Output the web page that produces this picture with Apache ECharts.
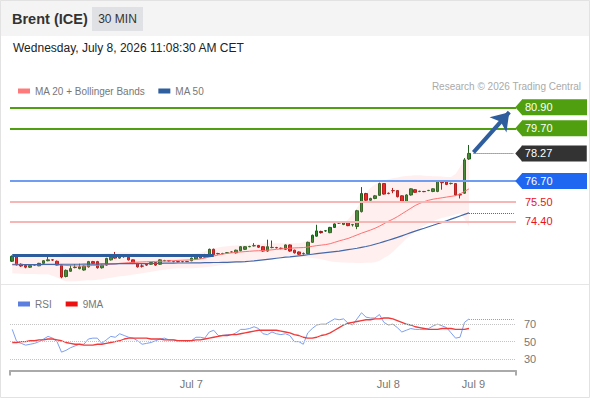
<!DOCTYPE html>
<html>
<head>
<meta charset="utf-8">
<script src="https://cdn.jsdelivr.net/npm/echarts@6/dist/echarts.min.js"></script>
<style>
html, body { margin: 0; padding: 0; background: #fff; }
#main { width: 590px; height: 400px; }
</style>
</head>
<body>
<div id="main"></div>
<script>
// 30 min candles, Brent (ICE)
const opens = [72.12,72.40,71.95,71.88,71.78,71.90,71.86,72.00,72.15,72.20,
  72.12,71.90,71.25,71.55,71.76,71.70,71.62,71.80,72.10,72.10,
  71.75,71.90,72.20,72.40,72.30,72.42,72.35,72.20,72.00,71.85,
  71.95,71.95,72.05,71.95,72.15,72.15,72.10,72.10,72.10,72.10,
  72.15,72.25,72.30,72.35,72.50,72.80,72.55,72.55,72.60,72.65,
  72.60,72.72,72.80,72.95,73.00,73.02,72.95,72.70,72.90,72.90,
  72.86,72.80,73.05,72.75,72.65,72.55,72.55,73.20,73.55,73.82,
  73.85,73.75,74.05,74.30,74.22,74.35,74.20,74.10,74.95,75.98,
  75.60,75.70,75.88,76.55,76.00,76.15,76.15,75.85,75.50,75.90,
  76.20,76.10,76.10,76.15,76.10,76.10,76.62,76.65,76.55,76.55,
  75.92,76.00,77.95];
const closes = [72.40,71.92,71.85,71.78,71.88,71.92,72.00,72.15,72.20,72.19,
  71.90,71.22,71.60,71.70,71.78,71.80,71.85,72.10,72.00,71.75,
  71.90,72.28,72.35,72.30,72.45,72.38,72.20,72.00,71.80,71.84,
  71.90,72.05,71.90,72.20,72.16,72.14,72.11,72.09,72.10,72.11,
  72.30,72.40,72.45,72.50,72.80,72.50,72.56,72.56,72.61,72.65,
  72.75,72.95,72.95,72.96,73.01,72.92,72.70,72.95,72.91,72.89,
  72.85,73.05,72.70,72.60,72.52,72.56,73.20,73.60,73.85,73.75,
  73.86,74.05,74.25,74.31,74.35,74.15,74.21,75.00,75.98,75.60,
  75.70,75.85,76.55,75.95,75.98,76.14,75.80,75.50,75.90,76.25,
  76.05,76.11,76.09,76.16,76.25,76.70,76.60,76.50,76.56,75.90,
  75.90,77.90,78.27];
const lows = [72.08,71.88,71.80,71.72,71.74,71.86,71.84,71.98,72.12,72.14,
  71.88,71.15,71.20,71.52,71.72,71.66,71.58,71.76,71.96,71.70,
  71.70,71.86,72.16,72.26,72.26,72.32,72.16,71.96,71.76,71.76,
  71.86,71.92,71.86,71.92,72.12,72.10,72.06,72.06,72.06,72.07,
  72.12,72.22,72.26,72.32,72.46,72.46,72.50,72.52,72.56,72.62,
  72.56,72.68,72.76,72.92,72.96,72.88,72.66,72.66,72.86,72.85,
  72.80,72.76,72.66,72.56,72.48,72.50,72.52,73.16,73.52,73.70,
  73.80,73.72,74.02,74.26,74.18,74.12,74.10,73.95,74.90,75.56,
  75.56,75.66,75.84,75.92,75.94,76.00,75.76,75.46,75.46,75.86,
  76.02,76.06,76.06,76.12,76.06,76.06,76.20,76.46,76.50,75.86,
  75.70,75.96,77.90];
const highs = [72.45,72.45,72.00,71.92,71.92,71.96,72.03,72.18,72.50,72.24,
  72.16,71.92,71.65,71.90,71.95,71.98,71.88,72.14,72.14,72.14,
  71.94,72.32,72.40,72.65,72.50,72.46,72.38,72.22,72.03,71.95,
  71.98,72.08,72.08,72.24,72.20,72.18,72.14,72.13,72.14,72.14,
  72.33,72.44,72.48,72.54,72.84,72.84,72.60,72.60,72.64,72.68,
  72.78,72.98,72.98,73.00,73.15,73.05,72.98,73.35,73.30,72.94,
  72.90,73.08,73.08,72.78,72.68,72.62,73.24,73.64,74.20,73.86,
  73.90,74.08,74.28,74.34,74.38,74.38,74.25,75.05,76.35,76.02,
  75.74,75.90,76.60,76.58,76.04,76.30,76.18,75.88,75.94,76.28,
  76.24,76.14,76.13,76.19,76.28,76.74,76.68,76.70,76.60,76.58,
  75.98,78.00,78.75];

const ma20 = [71.95,71.95,71.94,71.93,71.92,71.92,71.92,71.93,71.93,71.93,
  71.92,71.90,71.88,71.87,71.86,71.85,71.85,71.86,71.88,71.89,
  71.90,71.92,71.95,71.97,72.00,72.02,72.04,72.06,72.07,72.08,
  72.09,72.10,72.11,72.12,72.13,72.14,72.15,72.17,72.18,72.19,
  72.20,72.22,72.25,72.30,72.36,72.42,72.48,72.53,72.57,72.60,
  72.63,72.65,72.67,72.69,72.71,72.72,72.73,72.75,72.77,72.80,
  72.82,72.84,72.86,72.88,72.89,72.90,72.93,72.97,73.01,73.04,
  73.07,73.12,73.20,73.28,73.35,73.42,73.52,73.62,73.72,73.81,
  73.90,74.00,74.12,74.26,74.40,74.52,74.66,74.82,74.98,75.14,
  75.30,75.42,75.52,75.60,75.66,75.70,75.74,75.78,75.82,75.86,
  75.96,76.10,76.25];
const bandUpper = [72.50,72.50,72.49,72.48,72.47,72.47,72.46,72.46,72.46,72.46,
  72.50,72.56,72.60,72.62,72.62,72.60,72.58,72.56,72.54,72.54,
  72.56,72.58,72.60,72.62,72.63,72.63,72.62,72.60,72.58,72.56,
  72.54,72.53,72.52,72.52,72.52,72.52,72.52,72.52,72.52,72.53,
  72.55,72.57,72.60,72.68,72.78,72.86,72.90,72.94,72.98,73.00,
  73.02,73.03,73.05,73.07,73.09,73.11,73.13,73.14,73.15,73.15,
  73.15,73.15,73.15,73.15,73.15,73.20,73.30,73.42,73.52,73.62,
  73.74,73.88,74.02,74.16,74.30,74.50,74.80,75.15,75.60,76.00,
  76.30,76.50,76.62,76.72,76.80,76.85,76.90,76.95,76.98,77.00,
  77.02,77.02,77.00,76.98,76.97,76.96,76.95,76.93,76.92,77.10,
  77.50,77.95,78.45];
const bandLower = [71.44,71.42,71.41,71.40,71.40,71.39,71.38,71.38,71.38,71.30,
  71.20,71.08,70.98,70.98,70.98,71.00,71.02,71.03,71.04,71.06,
  71.10,71.14,71.18,71.22,71.26,71.28,71.32,71.36,71.40,71.44,
  71.48,71.52,71.56,71.60,71.64,71.68,71.71,71.72,71.72,71.72,
  71.72,71.73,71.75,71.78,71.81,71.84,71.88,71.92,71.96,72.00,
  72.04,72.06,72.08,72.11,72.14,72.17,72.20,72.24,72.28,72.32,
  72.36,72.40,72.42,72.42,72.40,72.36,72.33,72.30,72.28,72.24,
  72.18,72.12,72.08,72.06,72.05,72.04,72.03,72.02,72.02,72.03,
  72.04,72.06,72.15,72.30,72.45,72.65,72.90,73.15,73.40,73.62,
  73.82,74.00,74.15,74.30,74.42,74.52,74.60,74.66,74.72,74.80,
  74.85,74.55,74.10];
const ma50 = [71.92,71.92,71.92,71.93,71.93,71.93,71.93,71.94,71.94,71.94,
  71.94,71.95,71.95,71.95,71.95,71.95,71.96,71.96,71.96,71.96,
  71.97,71.97,71.97,71.97,71.98,71.98,71.98,71.98,71.99,71.99,
  71.99,72.00,72.00,72.00,72.01,72.01,72.01,72.02,72.02,72.02,
  72.03,72.03,72.03,72.04,72.04,72.05,72.05,72.06,72.06,72.07,
  72.08,72.09,72.10,72.12,72.14,72.17,72.20,72.23,72.26,72.29,
  72.32,72.35,72.37,72.40,72.43,72.46,72.49,72.52,72.55,72.58,
  72.61,72.64,72.67,72.70,72.74,72.78,72.82,72.86,72.91,72.96,
  73.02,73.09,73.16,73.24,73.32,73.40,73.48,73.57,73.66,73.75,
  73.84,73.92,74.00,74.09,74.17,74.26,74.34,74.43,74.52,74.61,
  74.70,74.79,74.88];

const rsi = [64,50,48,46,47,48,50,53,56,54, 50,38,40,43,45,47,47,53,54,54,
  48,52,56,55,59,57,55,54,51,47, 48,49,51,53,54,52,52,51,51,50,
  51,55,55,54,61,63,57,57,58,58, 60,64,64,65,67,65,59,58,61,59,
  58,59,57,50,50,47,60,65,69,70, 70,73,76,75,76,71,69,76,83,78,
  77,77,81,72,69,70,66,61,63,65, 64,64,64,65,68,70,68,66,60,54,
  55,72,76];
const rsiMa = [49,49,50,50,51,51,52,52,53,53, 52,51,49,48,47,47,46,46,46,47,
  47,48,49,50,51,53,54,54,54,54, 54,53,53,53,52,52,52,51,51,51,
  51,52,52,53,54,55,56,57,57,58, 58,59,60,61,62,63,63,63,63,63,
  62,61,60,58,57,55,54,54,55,57, 58,60,63,66,69,71,72,73,74,75,
  75,76,76,77,77,76,74,72,70,69, 67,66,65,64,64,64,65,65,65,64,
  64,64,65];
const rsiLevels = [70, 50, 30];

// key levels drawn on the right
const levelValues = [80.90, 79.70, 78.27, 76.70, 75.50, 74.40];
const levelKinds = ['target', 'target', 'last', 'pivot', 'support', 'support'];
const supportLine = 72.45;           // old horizontal line on the left
const supportEnd = 45;
const arrowFrom = 78.33;
const arrowTo = 80.62;

const dayTicks = [[40, 'Jul 7'], [84, 'Jul 8'], [103, 'Jul 9']];
const slotCount = 113;
const categories = [];
for (let i = 0; i < slotCount; i++) categories.push(String(i));
const dayName = {};
dayTicks.forEach(d => { dayName[d[0]] = d[1]; });

const lastIdx = closes.length - 1;
const lastSlot = slotCount - 1;

const levelStyle = {
  target: { line: '#4f9f10', tag: '#4f9f10', text: '#fff' },
  last: { line: '#555', tag: '#333', text: '#fff' },
  pivot: { line: '#6e9df2', tag: '#1f66f0', text: '#fff' },
  support: { line: '#f6b6b6', tag: null, text: '#e8141c' }
};

const candles = opens.map((o, i) => [o, closes[i], lows[i], highs[i]]);
const bandSpread = bandUpper.map((u, i) => +(u - bandLower[i]).toFixed(2));

var levelLines = [];
var levelTags = [];
levelValues.forEach((v, k) => {
  const kind = levelKinds[k];
  const s = levelStyle[kind];
  const label = { show: true, position: 'end', formatter: v.toFixed(2), color: s.text,
    fontSize: 11, distance: 6, align: 'left' };
  if (s.tag) {
    label.backgroundColor = s.tag;
    label.padding = [2, 4, 2, 3];
    label.width = 58;
    label.lineHeight = 12;
  } else {
    label.distance = 9;
  }
  if (kind === 'last') {
    label.distance = 8;
    levelLines.push([
      { coord: [lastIdx + 1, v], lineStyle: { color: s.line, type: 'dotted', width: 1 }, label: label },
      { coord: [lastSlot, v] }
    ]);
  } else {
    levelLines.push({ yAxis: v, lineStyle: { color: s.line, width: 2, type: 'solid' }, label: label });
  }
  if (s.tag) {
    levelTags.push({ coord: [lastSlot, v], itemStyle: { color: s.tag } });
  }
});

var font = "'Liberation Sans', Arial, sans-serif";
var myChart = echarts.init(document.getElementById('main'), null, { renderer: 'svg' });

var option = {
  animation: false,
  textStyle: { fontFamily: font },
  graphic: [
    { type: 'rect', shape: { x: 0, y: 0, width: 590, height: 36 }, style: { fill: '#f4f4f4' }, z: -1 },
    { type: 'rect', shape: { x: 92, y: 7, width: 51, height: 24 }, style: { fill: '#dfe1e5' } },
    { type: 'text', x: 12, y: 19, style: { text: 'Brent (ICE)', font: 'bold 14.5px ' + font, fill: '#333', verticalAlign: 'middle' } },
    { type: 'text', x: 117.5, y: 19, style: { text: '30 MIN', font: '12px ' + font, fill: '#333', align: 'center', verticalAlign: 'middle' } },
    { type: 'text', x: 13, y: 48, style: { text: 'Wednesday, July 8, 2026 11:08:30 AM CET', font: '12px ' + font, fill: '#222', verticalAlign: 'middle' } },
    { type: 'text', x: 581, y: 86, style: { text: 'Research \u00a9 2026 Trading Central', font: '10px ' + font, fill: '#aaa', align: 'right', verticalAlign: 'middle' } },
    { type: 'line', shape: { x1: 0, y1: 284.5, x2: 590, y2: 284.5 }, style: { stroke: '#e6e6e6', lineWidth: 1 } },
    { type: 'rect', shape: { x: 0.5, y: 0.5, width: 589, height: 397 }, style: { fill: 'none', stroke: '#e2e2e2', lineWidth: 1 }, z: 10 }
  ],
  legend: [
    { data: ['MA 20 + Bollinger Bands', 'MA 50'], left: 13, top: 81, icon: 'rect', itemWidth: 12, itemHeight: 5,
      itemGap: 13, textStyle: { fontSize: 10, color: '#777' }, selectedMode: false },
    { data: ['RSI', '9MA'], left: 13, top: 294, icon: 'rect', itemWidth: 12, itemHeight: 5,
      itemGap: 14, textStyle: { fontSize: 10, color: '#777' }, selectedMode: false }
  ],
  grid: [
    { left: 10, right: 74, top: 95, height: 188 },
    { left: 10, right: 74, top: 311, height: 59.5 }
  ],
  xAxis: [
    { type: 'category', gridIndex: 0, data: categories, show: false },
    { type: 'category', gridIndex: 1, data: categories, position: 'bottom',
      axisLine: { show: false }, axisTick: { show: false }, splitLine: { show: false },
      axisLabel: { interval: (i) => dayName[i] !== undefined, formatter: (v, i) => dayName[i] || '',
        color: '#777', fontSize: 11, margin: 8 } },
    { type: 'value', gridIndex: 1, min: 0, max: 1, interval: 1, position: 'bottom',
      axisLine: { lineStyle: { color: '#aaa', width: 2 } },
      axisTick: { show: true, length: 5, lineStyle: { color: '#aaa', width: 2 } },
      axisLabel: { show: false }, splitLine: { show: false } }
  ],
  yAxis: [
    { type: 'value', gridIndex: 0, min: 70.88, max: 81.6, show: false },
    { type: 'value', gridIndex: 1, min: 17, max: 85, show: false }
  ],
  series: [
    { name: 'bandBase', type: 'line', stack: 'bb', data: bandLower, symbol: 'none',
      lineStyle: { opacity: 0 }, silent: true },
    { name: 'bandSpread', type: 'line', stack: 'bb', data: bandSpread, symbol: 'none',
      lineStyle: { opacity: 0 }, areaStyle: { color: 'rgba(255,140,140,0.2)' }, silent: true },
    { name: 'levels', type: 'line', data: [], silent: true,
      markLine: { symbol: ['none', 'none'], silent: true, data: levelLines },
      markPoint: { symbol: 'path://M0,8L7,0L7,16Z', symbolSize: [7, 16], symbolOffset: [5, 0],
        symbolKeepAspect: false, label: { show: false }, silent: true, data: levelTags } },
    { name: 'MA 20 + Bollinger Bands', type: 'line', data: ma20, symbol: 'none', color: '#ff7a7a',
      lineStyle: { width: 1, color: '#ff7070' } },
    { name: 'MA 50', type: 'line', data: ma50, symbol: 'none', color: '#2f5f9f',
      lineStyle: { width: 1.2, color: '#4468aa' },
      markLine: { symbol: ['none', 'none'], silent: true, label: { show: false },
        lineStyle: { color: '#4468aa', type: 'dotted', width: 1 },
        data: [[{ coord: [lastIdx, ma50[lastIdx]] }, { coord: [lastSlot, ma50[lastIdx]] }]] } },
    { name: 'Brent', type: 'candlestick', data: candles, barWidth: 3,
      itemStyle: { color: '#2a8a2a', color0: '#e61a1a', borderColor: '#1c5f1c', borderColor0: '#a81010', borderWidth: 1 },
      markLine: { symbol: ['none', 'none'], silent: true, label: { show: false },
        data: [
          [{ coord: [0, supportLine], lineStyle: { color: '#2d5c9c', width: 3, type: 'solid' } },
           { coord: [supportEnd, supportLine] }],
          [{ coord: [lastIdx + 1, arrowFrom], lineStyle: { color: '#2f5e9e', width: 4, type: 'solid' } },
           { coord: [lastSlot - 1, arrowTo], symbol: 'arrow', symbolSize: 17 }]
        ] } },
    { name: 'RSI', type: 'line', xAxisIndex: 1, yAxisIndex: 1, data: rsi, symbol: 'none', color: '#5a7fe0',
      lineStyle: { width: 1, color: '#7d9ff0' },
      markLine: { symbol: ['none', 'none'], silent: true,
        data: rsiLevels.map(v => ({ yAxis: v, lineStyle: { color: '#c4c4c4', type: 'dotted', width: 1 },
          label: { show: true, position: 'end', distance: 8, formatter: String(v), color: '#777', fontSize: 11 } }))
          .concat([[{ coord: [lastIdx, rsi[lastIdx]], lineStyle: { color: '#7d9ff0', type: 'dotted', width: 1 }, label: { show: false } },
                    { coord: [lastSlot, rsi[lastIdx]] }]]) } },
    { name: '9MA', type: 'line', xAxisIndex: 1, yAxisIndex: 1, data: rsiMa, symbol: 'none', color: '#ee1111',
      lineStyle: { width: 1.3, color: '#f03a3a' } }
  ]
};
myChart.setOption(option);
</script>
</body>
</html>
